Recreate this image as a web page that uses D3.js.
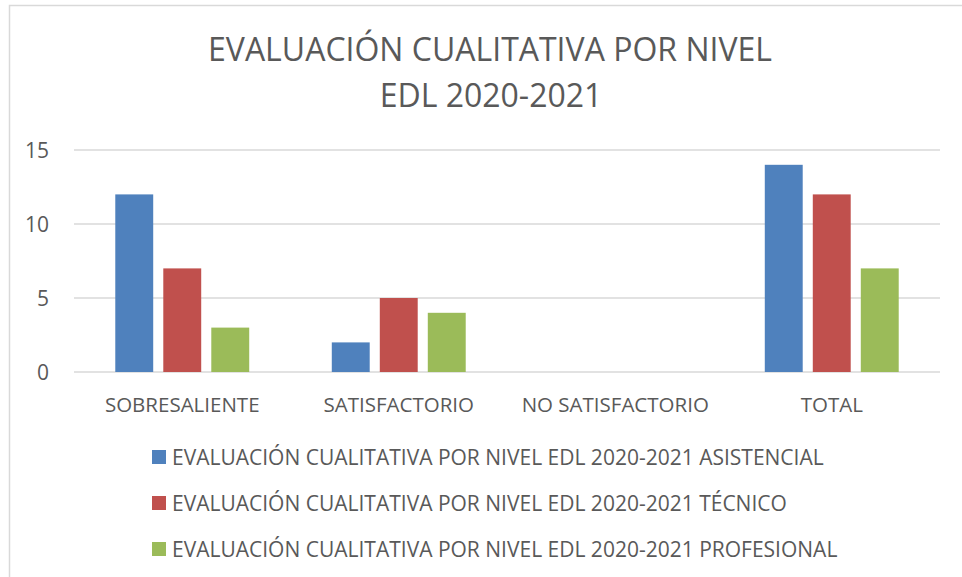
<!DOCTYPE html>
<html>
<head>
<meta charset="utf-8">
<script src="https://cdn.jsdelivr.net/npm/d3@7"></script>
<style>
  body { margin: 0; background: #fff; }
  text { font-family: "Open Sans", "Noto Sans", sans-serif; fill: #595959; }
</style>
</head>
<body>
<div id="chart"></div>
<script>
// Data
const categories = ["SOBRESALIENTE", "SATISFACTORIO", "NO SATISFACTORIO", "TOTAL"];
const seriesNames = [
    "EVALUACIÓN CUALITATIVA POR NIVEL EDL 2020-2021 ASISTENCIAL",
    "EVALUACIÓN CUALITATIVA POR NIVEL EDL 2020-2021 TÉCNICO",
    "EVALUACIÓN CUALITATIVA POR NIVEL EDL 2020-2021 PROFESIONAL"
];
const asistencial = [12, 2, 0, 14];
const tecnico = [7, 5, 0, 12];
const profesional = [3, 4, 0, 7];
const yTicks = [0, 5, 10, 15];
const colors = ["#4F81BD", "#C0504D", "#9BBB59"];

const seriesValues = [asistencial, tecnico, profesional];

const width = 962;
const height = 577;

const svg = d3.select("#chart")
    .append("svg")
    .attr("width", width)
    .attr("height", height);

// chart area border
svg.append("rect")
    .attr("x", 9.5)
    .attr("y", 5.5)
    .attr("width", 1000)
    .attr("height", 700)
    .attr("fill", "none")
    .attr("stroke", "#D9D9D9")
    .attr("stroke-width", 1.5);

// Title
const title = svg.append("text")
    .attr("text-anchor", "middle")
    .style("font-size", "32px");
title.append("tspan").attr("x", 490).attr("y", 61).text("EVALUACIÓN CUALITATIVA POR NIVEL");
title.append("tspan").attr("x", 491).attr("y", 107).text("EDL 2020-2021");

// Scales
const plot = { left: 74, right: 940, top: 150, bottom: 372 };

const x0 = d3.scaleBand()
    .domain(categories)
    .range([plot.left, plot.right]);

const x1 = d3.scaleBand()
    .domain(d3.range(seriesNames.length))
    .range([0, x0.bandwidth()])
    .paddingInner(0.21)
    .paddingOuter(0.86);

const y = d3.scaleLinear()
    .domain([0, 15])
    .range([plot.bottom, plot.top]);

// Gridlines
svg.append("g")
    .selectAll("line")
    .data(yTicks)
    .enter()
    .append("line")
    .attr("x1", plot.left)
    .attr("x2", plot.right)
    .attr("y1", d => y(d))
    .attr("y2", d => y(d))
    .attr("stroke", "#D9D9D9")
    .attr("stroke-width", 1.5);

// Y axis labels
svg.append("g")
    .selectAll("text")
    .data(yTicks)
    .enter()
    .append("text")
    .attr("x", 49)
    .attr("y", d => y(d))
    .attr("dy", "0.36em")
    .attr("text-anchor", "end")
    .style("font-size", "21px")
    .text(d => d);

// Bars
const groups = svg.append("g")
    .selectAll("g")
    .data(categories)
    .enter()
    .append("g")
    .attr("transform", d => `translate(${x0(d)},0)`);

groups.selectAll("rect")
    .data((d, i) => seriesValues.map((s, j) => ({ series: j, value: s[i] })))
    .enter()
    .append("rect")
    .attr("x", d => x1(d.series))
    .attr("width", x1.bandwidth())
    .attr("y", d => y(d.value))
    .attr("height", d => y(0) - y(d.value))
    .attr("fill", d => colors[d.series]);

// X axis labels
svg.append("g")
    .selectAll("text")
    .data(categories)
    .enter()
    .append("text")
    .attr("x", d => x0(d) + x0.bandwidth() / 2)
    .attr("y", 412)
    .attr("text-anchor", "middle")
    .style("font-size", "20.5px")
    .text(d => d);

// Legend
const legend = svg.append("g")
    .selectAll("g")
    .data(seriesNames)
    .enter()
    .append("g")
    .attr("transform", (d, i) => `translate(152,${450 + i * 46})`);

legend.append("rect")
    .attr("width", 14)
    .attr("height", 14)
    .attr("fill", (d, i) => colors[i]);

legend.append("text")
    .attr("x", 20)
    .attr("y", 7)
    .attr("dy", "0.36em")
    .style("font-size", "21px")
    .text(d => d);
</script>
</body>
</html>
